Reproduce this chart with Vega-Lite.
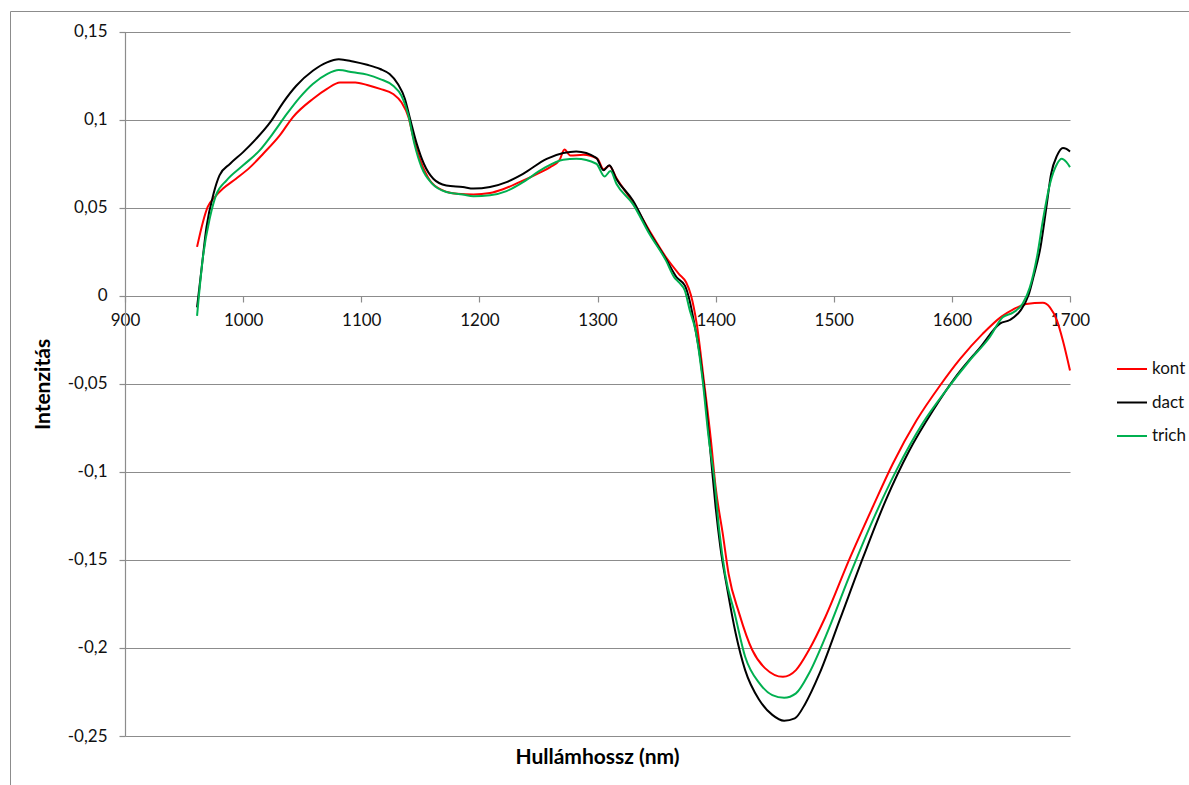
{
  "$schema": "https://vega.github.io/schema/vega-lite/v6.json",
  "autosize": {"type": "none"},
  "padding": {"left": 10, "top": 11, "right": 0, "bottom": 0},
  "width": 1179,
  "height": 774,
  "background": "white",
  "config": {
    "font": "Lato",
    "view": {"stroke": "#8c8c8c", "strokeWidth": 1}
  },
  "datasets": {
    "spectra": [
      {"series": "kont", "wavelength": 961, "intensity": 0.0277},
      {"series": "kont", "wavelength": 966, "intensity": 0.0419},
      {"series": "kont", "wavelength": 970, "intensity": 0.0504},
      {"series": "kont", "wavelength": 976, "intensity": 0.056},
      {"series": "kont", "wavelength": 983, "intensity": 0.0608},
      {"series": "kont", "wavelength": 994, "intensity": 0.0664},
      {"series": "kont", "wavelength": 1006, "intensity": 0.073},
      {"series": "kont", "wavelength": 1017, "intensity": 0.0806},
      {"series": "kont", "wavelength": 1031, "intensity": 0.091},
      {"series": "kont", "wavelength": 1042, "intensity": 0.1013},
      {"series": "kont", "wavelength": 1059, "intensity": 0.1117},
      {"series": "kont", "wavelength": 1071, "intensity": 0.1174},
      {"series": "kont", "wavelength": 1082, "intensity": 0.1211},
      {"series": "kont", "wavelength": 1095, "intensity": 0.1211},
      {"series": "kont", "wavelength": 1105, "intensity": 0.1196},
      {"series": "kont", "wavelength": 1116, "intensity": 0.1174},
      {"series": "kont", "wavelength": 1127, "intensity": 0.1145},
      {"series": "kont", "wavelength": 1134, "intensity": 0.1098},
      {"series": "kont", "wavelength": 1140, "intensity": 0.1013},
      {"series": "kont", "wavelength": 1144, "intensity": 0.09},
      {"series": "kont", "wavelength": 1150, "intensity": 0.0768},
      {"series": "kont", "wavelength": 1158, "intensity": 0.0655},
      {"series": "kont", "wavelength": 1169, "intensity": 0.0598},
      {"series": "kont", "wavelength": 1181, "intensity": 0.0579},
      {"series": "kont", "wavelength": 1195, "intensity": 0.0575},
      {"series": "kont", "wavelength": 1209, "intensity": 0.0583},
      {"series": "kont", "wavelength": 1220, "intensity": 0.0604},
      {"series": "kont", "wavelength": 1234, "intensity": 0.0645},
      {"series": "kont", "wavelength": 1249, "intensity": 0.0692},
      {"series": "kont", "wavelength": 1260, "intensity": 0.073},
      {"series": "kont", "wavelength": 1268, "intensity": 0.0772},
      {"series": "kont", "wavelength": 1272, "intensity": 0.083},
      {"series": "kont", "wavelength": 1277, "intensity": 0.0796},
      {"series": "kont", "wavelength": 1288, "intensity": 0.08},
      {"series": "kont", "wavelength": 1300, "intensity": 0.0777},
      {"series": "kont", "wavelength": 1305, "intensity": 0.0718},
      {"series": "kont", "wavelength": 1310, "intensity": 0.0738},
      {"series": "kont", "wavelength": 1316, "intensity": 0.0668},
      {"series": "kont", "wavelength": 1330, "intensity": 0.053},
      {"series": "kont", "wavelength": 1344, "intensity": 0.0369},
      {"series": "kont", "wavelength": 1358, "intensity": 0.0218},
      {"series": "kont", "wavelength": 1369, "intensity": 0.0123},
      {"series": "kont", "wavelength": 1375, "intensity": 0.0076},
      {"series": "kont", "wavelength": 1379, "intensity": 0.0005},
      {"series": "kont", "wavelength": 1384, "intensity": -0.016},
      {"series": "kont", "wavelength": 1390, "intensity": -0.048},
      {"series": "kont", "wavelength": 1396, "intensity": -0.082},
      {"series": "kont", "wavelength": 1400, "intensity": -0.1087},
      {"series": "kont", "wavelength": 1406, "intensity": -0.135},
      {"series": "kont", "wavelength": 1411, "intensity": -0.158},
      {"series": "kont", "wavelength": 1420, "intensity": -0.1805},
      {"series": "kont", "wavelength": 1431, "intensity": -0.2012},
      {"series": "kont", "wavelength": 1442, "intensity": -0.2116},
      {"series": "kont", "wavelength": 1457, "intensity": -0.2164},
      {"series": "kont", "wavelength": 1468, "intensity": -0.2126},
      {"series": "kont", "wavelength": 1479, "intensity": -0.2012},
      {"series": "kont", "wavelength": 1493, "intensity": -0.1823},
      {"series": "kont", "wavelength": 1513, "intensity": -0.15},
      {"series": "kont", "wavelength": 1533, "intensity": -0.12},
      {"series": "kont", "wavelength": 1550, "intensity": -0.0954},
      {"series": "kont", "wavelength": 1570, "intensity": -0.0709},
      {"series": "kont", "wavelength": 1590, "intensity": -0.051},
      {"series": "kont", "wavelength": 1607, "intensity": -0.0359},
      {"series": "kont", "wavelength": 1626, "intensity": -0.0217},
      {"series": "kont", "wavelength": 1642, "intensity": -0.0119},
      {"series": "kont", "wavelength": 1652, "intensity": -0.0078},
      {"series": "kont", "wavelength": 1663, "intensity": -0.0047},
      {"series": "kont", "wavelength": 1677, "intensity": -0.004},
      {"series": "kont", "wavelength": 1683, "intensity": -0.0066},
      {"series": "kont", "wavelength": 1689, "intensity": -0.0142},
      {"series": "kont", "wavelength": 1694, "intensity": -0.0256},
      {"series": "kont", "wavelength": 1700, "intensity": -0.0425},

      {"series": "dact", "wavelength": 961, "intensity": -0.0067},
      {"series": "dact", "wavelength": 965, "intensity": 0.0164},
      {"series": "dact", "wavelength": 969, "intensity": 0.039},
      {"series": "dact", "wavelength": 975, "intensity": 0.058},
      {"series": "dact", "wavelength": 980, "intensity": 0.0683},
      {"series": "dact", "wavelength": 989, "intensity": 0.0749},
      {"series": "dact", "wavelength": 1000, "intensity": 0.0815},
      {"series": "dact", "wavelength": 1011, "intensity": 0.089},
      {"series": "dact", "wavelength": 1023, "intensity": 0.0985},
      {"series": "dact", "wavelength": 1034, "intensity": 0.1098},
      {"series": "dact", "wavelength": 1045, "intensity": 0.1192},
      {"series": "dact", "wavelength": 1059, "intensity": 0.1277},
      {"series": "dact", "wavelength": 1071, "intensity": 0.1325},
      {"series": "dact", "wavelength": 1081, "intensity": 0.1343},
      {"series": "dact", "wavelength": 1093, "intensity": 0.133},
      {"series": "dact", "wavelength": 1105, "intensity": 0.1311},
      {"series": "dact", "wavelength": 1116, "intensity": 0.1287},
      {"series": "dact", "wavelength": 1124, "intensity": 0.1258},
      {"series": "dact", "wavelength": 1131, "intensity": 0.1202},
      {"series": "dact", "wavelength": 1137, "intensity": 0.1117},
      {"series": "dact", "wavelength": 1141, "intensity": 0.1013},
      {"series": "dact", "wavelength": 1147, "intensity": 0.0862},
      {"series": "dact", "wavelength": 1153, "intensity": 0.0749},
      {"series": "dact", "wavelength": 1161, "intensity": 0.0664},
      {"series": "dact", "wavelength": 1172, "intensity": 0.0626},
      {"series": "dact", "wavelength": 1186, "intensity": 0.0617},
      {"series": "dact", "wavelength": 1195, "intensity": 0.0608},
      {"series": "dact", "wavelength": 1209, "intensity": 0.0617},
      {"series": "dact", "wavelength": 1223, "intensity": 0.0645},
      {"series": "dact", "wavelength": 1237, "intensity": 0.0692},
      {"series": "dact", "wavelength": 1257, "intensity": 0.0777},
      {"series": "dact", "wavelength": 1271, "intensity": 0.081},
      {"series": "dact", "wavelength": 1282, "intensity": 0.0819},
      {"series": "dact", "wavelength": 1299, "intensity": 0.0783},
      {"series": "dact", "wavelength": 1305, "intensity": 0.0712},
      {"series": "dact", "wavelength": 1310, "intensity": 0.074},
      {"series": "dact", "wavelength": 1316, "intensity": 0.0663},
      {"series": "dact", "wavelength": 1330, "intensity": 0.054},
      {"series": "dact", "wavelength": 1344, "intensity": 0.036},
      {"series": "dact", "wavelength": 1358, "intensity": 0.0208},
      {"series": "dact", "wavelength": 1367, "intensity": 0.0104},
      {"series": "dact", "wavelength": 1374, "intensity": 0.0057},
      {"series": "dact", "wavelength": 1378, "intensity": -0.0028},
      {"series": "dact", "wavelength": 1382, "intensity": -0.016},
      {"series": "dact", "wavelength": 1386, "intensity": -0.031},
      {"series": "dact", "wavelength": 1392, "intensity": -0.063},
      {"series": "dact", "wavelength": 1396, "intensity": -0.0917},
      {"series": "dact", "wavelength": 1400, "intensity": -0.12},
      {"series": "dact", "wavelength": 1404, "intensity": -0.1427},
      {"series": "dact", "wavelength": 1410, "intensity": -0.167},
      {"series": "dact", "wavelength": 1417, "intensity": -0.1918},
      {"series": "dact", "wavelength": 1425, "intensity": -0.2126},
      {"series": "dact", "wavelength": 1437, "intensity": -0.2296},
      {"series": "dact", "wavelength": 1448, "intensity": -0.238},
      {"series": "dact", "wavelength": 1458, "intensity": -0.2413},
      {"series": "dact", "wavelength": 1467, "intensity": -0.24},
      {"series": "dact", "wavelength": 1476, "intensity": -0.2315},
      {"series": "dact", "wavelength": 1488, "intensity": -0.2145},
      {"series": "dact", "wavelength": 1505, "intensity": -0.1842},
      {"series": "dact", "wavelength": 1525, "intensity": -0.1483},
      {"series": "dact", "wavelength": 1544, "intensity": -0.1162},
      {"series": "dact", "wavelength": 1564, "intensity": -0.0879},
      {"series": "dact", "wavelength": 1584, "intensity": -0.0652},
      {"series": "dact", "wavelength": 1604, "intensity": -0.0454},
      {"series": "dact", "wavelength": 1624, "intensity": -0.0293},
      {"series": "dact", "wavelength": 1641, "intensity": -0.0157},
      {"series": "dact", "wavelength": 1649, "intensity": -0.0138},
      {"series": "dact", "wavelength": 1658, "intensity": -0.0085},
      {"series": "dact", "wavelength": 1665, "intensity": 0.0005},
      {"series": "dact", "wavelength": 1669, "intensity": 0.0104},
      {"series": "dact", "wavelength": 1675, "intensity": 0.0275},
      {"series": "dact", "wavelength": 1680, "intensity": 0.0502},
      {"series": "dact", "wavelength": 1684, "intensity": 0.0691},
      {"series": "dact", "wavelength": 1689, "intensity": 0.0795},
      {"series": "dact", "wavelength": 1694, "intensity": 0.0839},
      {"series": "dact", "wavelength": 1697, "intensity": 0.0833},
      {"series": "dact", "wavelength": 1700, "intensity": 0.0818},

      {"series": "trich", "wavelength": 961, "intensity": -0.0115},
      {"series": "trich", "wavelength": 966, "intensity": 0.022},
      {"series": "trich", "wavelength": 972, "intensity": 0.0447},
      {"series": "trich", "wavelength": 977, "intensity": 0.057},
      {"series": "trich", "wavelength": 986, "intensity": 0.0655},
      {"series": "trich", "wavelength": 1000, "intensity": 0.074},
      {"series": "trich", "wavelength": 1014, "intensity": 0.0825},
      {"series": "trich", "wavelength": 1025, "intensity": 0.0919},
      {"series": "trich", "wavelength": 1037, "intensity": 0.1032},
      {"series": "trich", "wavelength": 1048, "intensity": 0.1126},
      {"series": "trich", "wavelength": 1059, "intensity": 0.1202},
      {"series": "trich", "wavelength": 1071, "intensity": 0.1258},
      {"series": "trich", "wavelength": 1081, "intensity": 0.1281},
      {"series": "trich", "wavelength": 1093, "intensity": 0.1268},
      {"series": "trich", "wavelength": 1105, "intensity": 0.1255},
      {"series": "trich", "wavelength": 1116, "intensity": 0.123},
      {"series": "trich", "wavelength": 1127, "intensity": 0.1192},
      {"series": "trich", "wavelength": 1134, "intensity": 0.1136},
      {"series": "trich", "wavelength": 1140, "intensity": 0.1021},
      {"series": "trich", "wavelength": 1145, "intensity": 0.0862},
      {"series": "trich", "wavelength": 1151, "intensity": 0.073},
      {"series": "trich", "wavelength": 1160, "intensity": 0.0636},
      {"series": "trich", "wavelength": 1172, "intensity": 0.0589},
      {"series": "trich", "wavelength": 1186, "intensity": 0.0575},
      {"series": "trich", "wavelength": 1195, "intensity": 0.0564},
      {"series": "trich", "wavelength": 1209, "intensity": 0.057},
      {"series": "trich", "wavelength": 1223, "intensity": 0.0594},
      {"series": "trich", "wavelength": 1237, "intensity": 0.0645},
      {"series": "trich", "wavelength": 1254, "intensity": 0.0721},
      {"series": "trich", "wavelength": 1271, "intensity": 0.0772},
      {"series": "trich", "wavelength": 1282, "intensity": 0.0777},
      {"series": "trich", "wavelength": 1299, "intensity": 0.0749},
      {"series": "trich", "wavelength": 1306, "intensity": 0.0677},
      {"series": "trich", "wavelength": 1311, "intensity": 0.0708},
      {"series": "trich", "wavelength": 1316, "intensity": 0.0636},
      {"series": "trich", "wavelength": 1330, "intensity": 0.052},
      {"series": "trich", "wavelength": 1344, "intensity": 0.035},
      {"series": "trich", "wavelength": 1358, "intensity": 0.0199},
      {"series": "trich", "wavelength": 1365, "intensity": 0.0104},
      {"series": "trich", "wavelength": 1369, "intensity": 0.0075},
      {"series": "trich", "wavelength": 1374, "intensity": 0.0028},
      {"series": "trich", "wavelength": 1378, "intensity": -0.008},
      {"series": "trich", "wavelength": 1383, "intensity": -0.0198},
      {"series": "trich", "wavelength": 1389, "intensity": -0.048},
      {"series": "trich", "wavelength": 1394, "intensity": -0.08},
      {"series": "trich", "wavelength": 1399, "intensity": -0.105},
      {"series": "trich", "wavelength": 1403, "intensity": -0.133},
      {"series": "trich", "wavelength": 1408, "intensity": -0.158},
      {"series": "trich", "wavelength": 1416, "intensity": -0.18},
      {"series": "trich", "wavelength": 1425, "intensity": -0.205},
      {"series": "trich", "wavelength": 1437, "intensity": -0.22},
      {"series": "trich", "wavelength": 1448, "intensity": -0.2268},
      {"series": "trich", "wavelength": 1458, "intensity": -0.2283},
      {"series": "trich", "wavelength": 1468, "intensity": -0.2258},
      {"series": "trich", "wavelength": 1479, "intensity": -0.2145},
      {"series": "trich", "wavelength": 1493, "intensity": -0.1937},
      {"series": "trich", "wavelength": 1513, "intensity": -0.1597},
      {"series": "trich", "wavelength": 1533, "intensity": -0.1276},
      {"series": "trich", "wavelength": 1553, "intensity": -0.0992},
      {"series": "trich", "wavelength": 1575, "intensity": -0.0728},
      {"series": "trich", "wavelength": 1595, "intensity": -0.0539},
      {"series": "trich", "wavelength": 1615, "intensity": -0.0368},
      {"series": "trich", "wavelength": 1632, "intensity": -0.0236},
      {"series": "trich", "wavelength": 1643, "intensity": -0.0123},
      {"series": "trich", "wavelength": 1652, "intensity": -0.0095},
      {"series": "trich", "wavelength": 1660, "intensity": -0.0045},
      {"series": "trich", "wavelength": 1666, "intensity": 0.0047},
      {"series": "trich", "wavelength": 1672, "intensity": 0.0218},
      {"series": "trich", "wavelength": 1677, "intensity": 0.0426},
      {"series": "trich", "wavelength": 1683, "intensity": 0.0634},
      {"series": "trich", "wavelength": 1689, "intensity": 0.0748},
      {"series": "trich", "wavelength": 1693, "intensity": 0.0777},
      {"series": "trich", "wavelength": 1697, "intensity": 0.0758},
      {"series": "trich", "wavelength": 1700, "intensity": 0.073}
    ]
  },
  "data": {"name": "spectra"},
  "mark": {"type": "line", "strokeWidth": 2, "interpolate": "monotone"},
  "encoding": {
    "x": {
      "field": "wavelength",
      "type": "quantitative",
      "scale": {"domain": [900, 1700], "range": [115, 1060], "nice": false, "zero": false},
      "axis": {
        "orient": "bottom",
        "offset": -489,
        "values": [900, 1000, 1100, 1200, 1300, 1400, 1500, 1600, 1700],
        "format": "d",
        "grid": false,
        "domainColor": "#8c8c8c",
        "domainWidth": 1.2,
        "tickColor": "#8c8c8c",
        "tickWidth": 1.2,
        "tickSize": 6,
        "labelPadding": 10,
        "labelFont": "Lato",
        "labelFontSize": 17,
        "labelColor": "#111111",
        "labelFlush": false,
        "labelOverlap": false,
        "title": "Hullámhossz (nm)",
        "titleFont": "Lato",
        "titleFontSize": 21,
        "titleFontWeight": "bold",
        "titleColor": "#000000",
        "titleX": 587,
        "titleY": 461,
        "titleBaseline": "middle",
        "titleAlign": "center"
      }
    },
    "y": {
      "field": "intensity",
      "type": "quantitative",
      "scale": {"domain": [-0.25, 0.15], "range": [725, 20.5], "nice": false, "zero": false},
      "axis": {
        "orient": "left",
        "offset": -115,
        "values": [-0.25, -0.2, -0.15, -0.1, -0.05, 0, 0.05, 0.1, 0.15],
        "labelExpr": "replace(toString(datum.value), '.', ',')",
        "grid": true,
        "gridColor": "#8c8c8c",
        "gridWidth": 1.2,
        "domainColor": "#8c8c8c",
        "domainWidth": 1.2,
        "tickColor": "#8c8c8c",
        "tickWidth": 1.2,
        "tickSize": 6,
        "labelPadding": 12,
        "labelFont": "Lato",
        "labelFontSize": 17,
        "labelColor": "#111111",
        "labelFlush": false,
        "labelOverlap": false,
        "title": "Intenzitás",
        "titleFont": "Lato",
        "titleFontSize": 21,
        "titleFontWeight": "bold",
        "titleColor": "#000000",
        "titleAngle": -90,
        "titleX": -82,
        "titleY": 373,
        "titleBaseline": "middle",
        "titleAlign": "center"
      }
    },
    "color": {
      "field": "series",
      "type": "nominal",
      "sort": ["kont", "dact", "trich"],
      "scale": {"domain": ["kont", "dact", "trich"], "range": ["#ff0000", "#000000", "#00b050"]},
      "legend": {
        "orient": "none",
        "legendX": 1106,
        "legendY": 342,
        "title": null,
        "padding": 0,
        "symbolType": "stroke",
        "symbolSize": 900,
        "symbolStrokeWidth": 2,
        "labelOffset": 4,
        "rowPadding": 9.5,
        "labelFont": "Lato",
        "labelFontSize": 17,
        "labelColor": "#111111"
      }
    }
  }
}
